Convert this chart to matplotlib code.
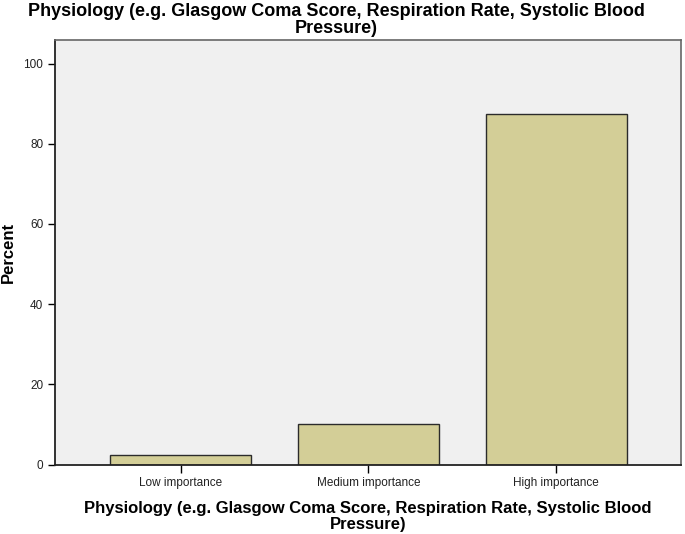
import matplotlib
matplotlib.use("Agg")
import matplotlib.pyplot as plt

categories = ["Low importance", "Medium importance", "High importance"]
percents = [2.4, 10.1, 87.5]
y_ticks = [0, 20, 40, 60, 80, 100]
title_text = "Physiology (e.g. Glasgow Coma Score, Respiration Rate, Systolic Blood\nPressure)"

plt.rcParams['font.family'] = ['Liberation Sans', 'DejaVu Sans']

fig = plt.figure(figsize=(6.85, 5.34), dpi=100)
# axes box: x 55..681 px, y 39.5..464.5 px
ax = fig.add_axes([55 / 685, (534 - 464.5) / 534, 626 / 685, 425 / 534])
ax.set_facecolor('#F0F0F0')

x = list(range(len(categories)))
ax.bar(x, percents, width=0.75, color='#D3CE97', edgecolor='#2b2b2b', linewidth=1.0, zorder=2)

ax.set_xlim(-0.67, 2.665)
ax.set_ylim(0, 106)
ax.set_yticks(y_ticks)
ax.set_xticks(x)
ax.set_xticklabels(categories, fontsize=8.5, color='#222222')
ax.tick_params(axis='y', labelsize=8.5, labelcolor='#222222', length=5, width=1, direction='out')
ax.tick_params(axis='x', length=6, width=1, direction='out', pad=3)

for side in ['left', 'bottom']:
    ax.spines[side].set_linewidth(1.3)
    ax.spines[side].set_color('#222222')
for side in ['top', 'right']:
    ax.spines[side].set_linewidth(1.2)
    ax.spines[side].set_color('#666666')

ax.set_ylabel("Percent", fontsize=12, fontweight='bold')
ax.yaxis.set_label_coords(-0.063, 0.5)
ax.set_xlabel(title_text, fontsize=12, fontweight='bold', linespacing=1.05, labelpad=9)
fig.text(336 / 685, 0.994, title_text, ha='center', va='top', fontsize=13,
         fontweight='bold', linespacing=1.0)

fig.savefig("out.png", dpi=100, facecolor='white')
